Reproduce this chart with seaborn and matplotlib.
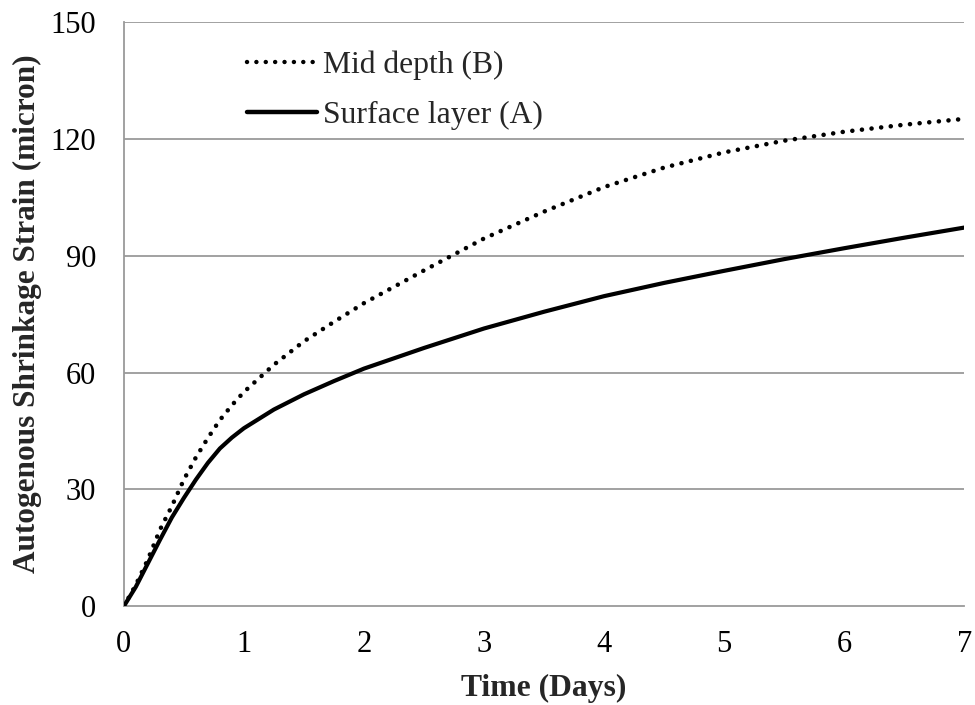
import matplotlib
matplotlib.use("Agg")
import matplotlib.pyplot as plt
import seaborn as sns
import pandas as pd

# Autogenous shrinkage strain over the first week
time_days = [0, 0.1, 0.2, 0.3, 0.4, 0.5, 0.6, 0.7, 0.8, 0.9, 1.0, 1.25, 1.5,
             1.75, 2.0, 2.5, 3.0, 3.5, 4.0, 4.5, 5.0, 5.5, 6.0, 6.5, 7.0]
mid_depth_b = [0, 5.5, 12, 19.6, 25.7, 32.5, 38.2, 43.2, 47.8, 51.6, 55, 62, 68,
               73, 77.8, 86.2, 94.4, 101.3, 107.6, 112.6, 116.5, 119.5, 121.8, 123.6, 125.1]
surface_a = [0, 5, 11, 17, 22.8, 27.8, 32.5, 36.8, 40.5, 43.3, 45.7, 50.5, 54.4,
             57.8, 61.0, 66.3, 71.3, 75.6, 79.6, 83, 86.1, 89.1, 91.9, 94.6, 97.2]
series_labels = ["Mid depth (B)", "Surface layer (A)"]
x_ticks = [0, 1, 2, 3, 4, 5, 6, 7]
y_ticks = [0, 30, 60, 90, 120, 150]

sns.set_theme(style="white")
plt.rcParams["font.family"] = ["Liberation Serif", "DejaVu Serif"]

df_b = pd.DataFrame({"t": time_days, "v": mid_depth_b})
df_a = pd.DataFrame({"t": time_days, "v": surface_a})

fig = plt.figure(figsize=(9.75, 7.05), dpi=100)
ax = fig.add_axes([0.127, 0.140, 0.862, 0.829])

grid_col = "#9a9a9a"
for y in y_ticks[1:]:
    ax.axhline(y, color=grid_col, lw=1.3, zorder=0)

dot_style = (0, (0.01, 2.1))

sns.lineplot(data=df_b, x="t", y="v", ax=ax, color="black", lw=3.3,
             label=series_labels[0], zorder=3)
sns.lineplot(data=df_a, x="t", y="v", ax=ax, color="black", lw=3.0,
             label=series_labels[1], zorder=4)

dotted = ax.lines[-2]
dotted.set_linestyle(dot_style)
dotted.set_dash_capstyle("round")
ax.lines[-1].set_solid_capstyle("round")
ax.lines[-1].set_solid_joinstyle("round")

ax.set_xlim(0, 7)
ax.set_ylim(0, 150)
ax.set_xticks(x_ticks)
ax.set_yticks(y_ticks)
ax.tick_params(axis="both", labelsize=22, colors="black", length=7,
               width=1.3, direction="out")
ax.tick_params(axis="x", color=grid_col, pad=10)
ax.tick_params(axis="y", color=grid_col, pad=13)

for side in ["top", "right"]:
    ax.spines[side].set_visible(False)
for side in ["left", "bottom"]:
    ax.spines[side].set_color(grid_col)
    ax.spines[side].set_linewidth(1.3)

ax.set_xlabel("Time (Days)", fontsize=22.8, fontweight="bold", labelpad=11)
ax.set_ylabel("Autogenous Shrinkage Strain (micron)", fontsize=22.5,
              fontweight="bold", labelpad=6)

leg = ax.legend(loc="upper left", bbox_to_anchor=(0.132, 0.972), frameon=False,
                fontsize=22.8, handlelength=2.2, handletextpad=0.2,
                labelspacing=0.66, borderaxespad=0)
for h in leg.get_lines():
    h.set_linewidth(3.2)
leg.get_lines()[0].set_linestyle(dot_style)
leg.get_lines()[0].set_dash_capstyle("round")

fig.savefig("out.png", dpi=100, facecolor="white")
